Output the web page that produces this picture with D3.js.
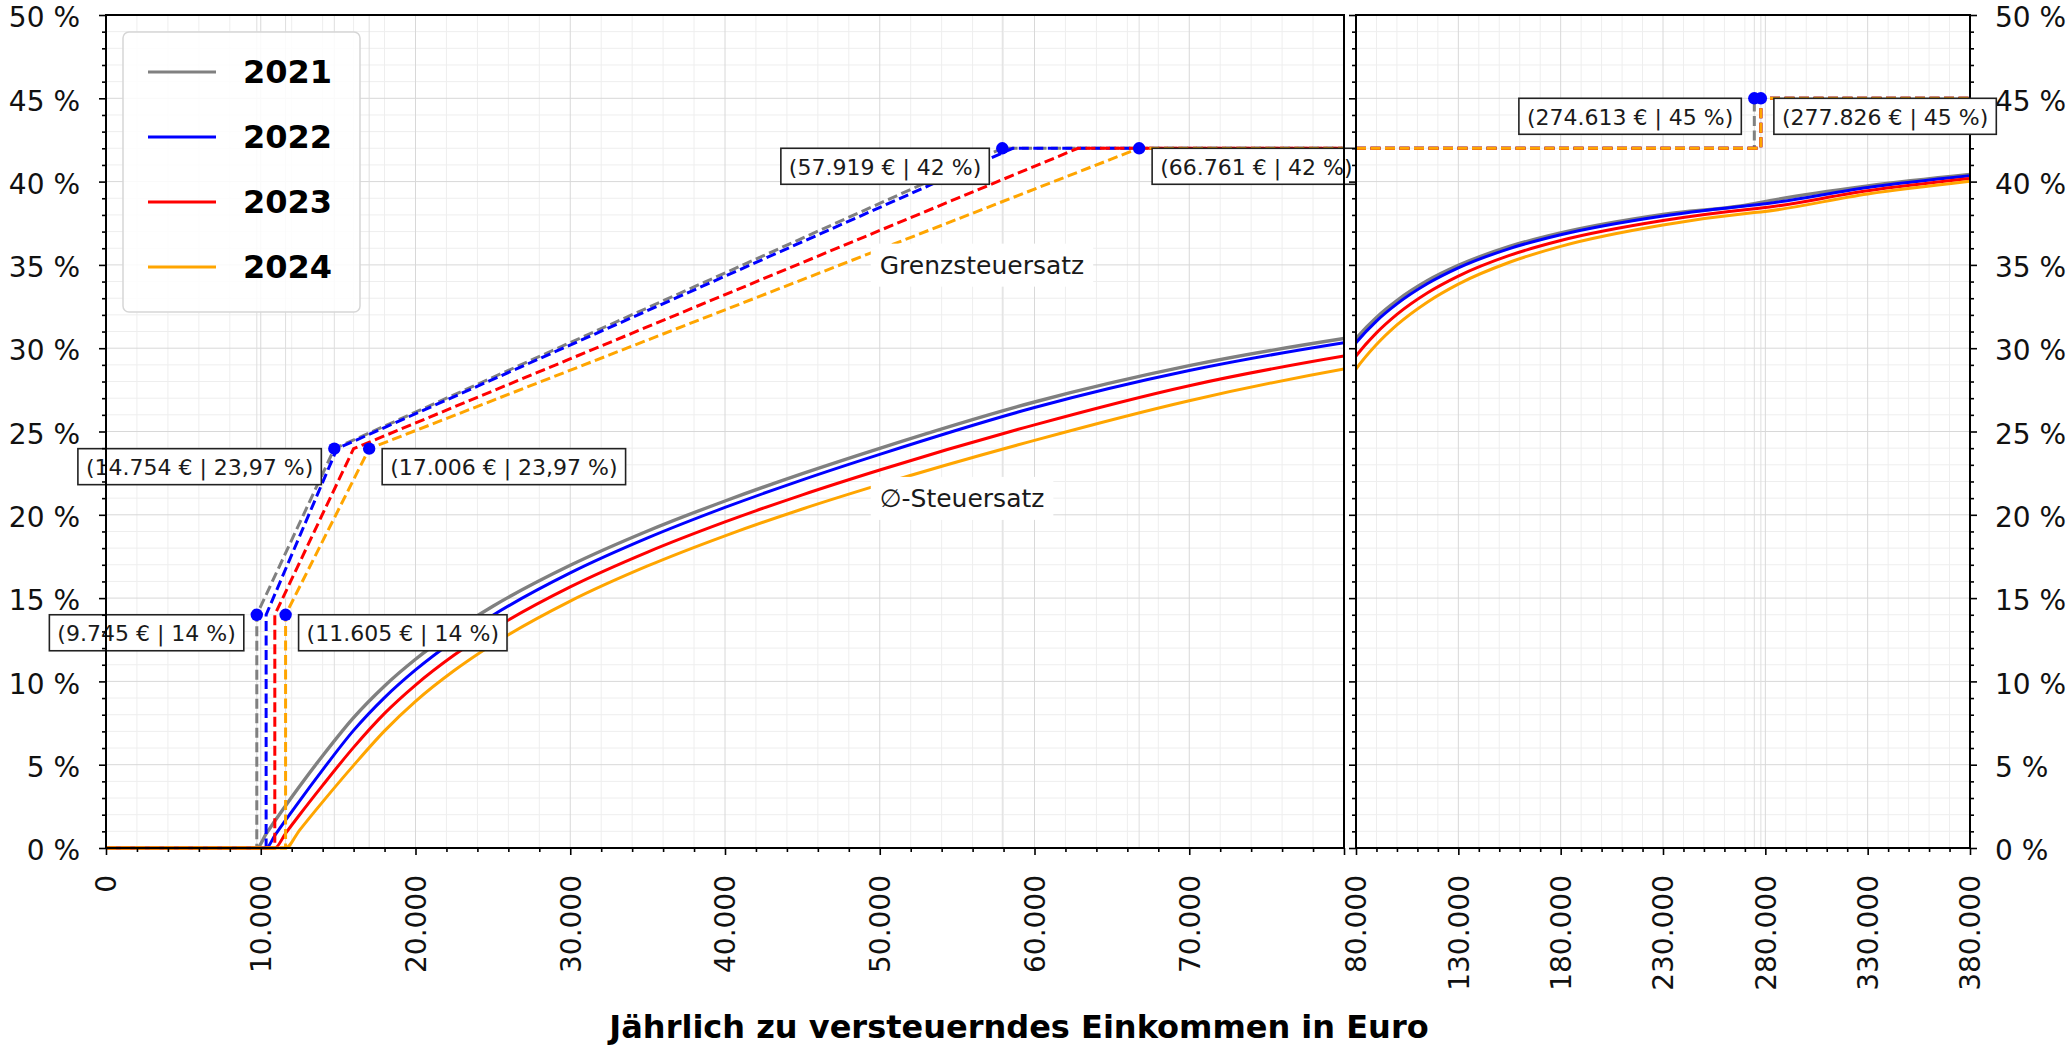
<!DOCTYPE html>
<html>
<head>
<meta charset="utf-8">
<script src="https://cdn.jsdelivr.net/npm/d3@7"></script>
<style>
    body { margin: 0; background: #fff; }
    svg { display: block; font-family: "DejaVu Sans", sans-serif; }
</style>
</head>
<body>
<div class="chart-container"></div>
<script>
// Data.
const years = ['2021', '2022', '2023', '2024'];
const yearColors = ['#808080', '#0000ff', '#ff0000', '#ffa500'];

// Grenzsteuersatz: breakpoints in Euro, rate in %
const marginalIncome2021 = [0, 9744, 9745, 14754, 57919, 274612, 274613, 380000];
const marginalIncome2022 = [0, 10347, 10348, 14927, 58597, 277825, 277826, 380000];
const marginalIncome2023 = [0, 10908, 10909, 16000, 62810, 277825, 277826, 380000];
const marginalIncome2024 = [0, 11604, 11605, 17006, 66761, 277825, 277826, 380000];
const marginalRate = [0, 0, 14, 23.97, 42, 42, 45, 45];

// Ø-Steuersatz
const avgIncome = [0, 9744, 10347, 10908, 11604, 12500, 14000, 16000, 18000, 20000, 22500, 25000,
    30000, 35000, 40000, 45000, 50000, 60000, 70000, 80000, 90000, 100000, 115000, 130000,
    155000, 180000, 230000, 274613, 277826, 330000, 380000];
const avg2021 = [0, 0, 0.85, 1.62, 2.54, 3.69, 5.54, 7.83, 9.73, 11.33, 13.04, 14.51, 16.97, 19.03,
    20.83, 22.47, 23.99, 26.77, 28.95, 30.58, 31.85, 32.86, 34.06, 34.97, 36.11, 36.92, 38.03,
    38.67, 38.75, 39.74, 40.43];
const avg2022 = [0, 0, 0, 0.75, 1.67, 2.82, 4.69, 7.06, 9.03, 10.69, 12.46, 13.97, 16.51, 18.61,
    20.44, 22.10, 23.63, 26.44, 28.66, 30.33, 31.63, 32.66, 33.88, 34.82, 35.98, 36.81, 37.94,
    38.60, 38.64, 39.65, 40.35];
const avg2023 = [0, 0, 0, 0, 0.88, 1.98, 3.76, 6.04, 8.08, 9.78, 11.58, 13.12, 15.67, 17.76,
    19.57, 21.20, 22.69, 25.40, 27.75, 29.53, 30.92, 32.03, 33.33, 34.33, 35.57, 36.46, 37.66,
    38.37, 38.41, 39.45, 40.18];
const avg2024 = [0, 0, 0, 0, 0, 1.06, 2.77, 4.96, 7.03, 8.80, 10.65, 12.23, 14.82, 16.93,
    18.74, 20.35, 21.81, 24.47, 26.85, 28.75, 30.22, 31.40, 32.78, 33.85, 35.16, 36.11, 37.39,
    38.14, 38.18, 39.26, 40.02];

// Marked points (2021 and 2024 Tarifeckwerte)
const pointIncome = [9745, 11605, 14754, 17006, 57919, 66761, 274613, 277826];
const pointRate = [14, 14, 23.97, 23.97, 42, 42, 45, 45];
const pointSide = ['left', 'right', 'left', 'right', 'left', 'right', 'left', 'right'];

// Tick values
const yTicks = d3.range(0, 51, 5);
const yMinorTicks = d3.range(0, 51, 1).filter(v => v % 5 !== 0);
const xLeftTicks = d3.range(0, 80001, 10000);
const xLeftMinor = d3.range(0, 80001, 2000).filter(v => v % 10000 !== 0);
const xRightTicks = d3.range(80000, 380001, 50000);
const xRightMinor = d3.range(80000, 380001, 10000).filter(v => (v - 80000) % 50000 !== 0);

const marginalIncome = [marginalIncome2021, marginalIncome2022, marginalIncome2023, marginalIncome2024];
const avgRate = [avg2021, avg2022, avg2023, avg2024];

const de = d3.formatLocale({decimal: ',', thousands: '.', grouping: [3], currency: ['', ' €']});
const fmtEuro = de.format(',');
const fmtRate = de.format('.4~r');

const width = 2071, height = 1047;
const svg = d3.select('.chart-container')
    .append('svg')
    .attr('width', width)
    .attr('height', height);

const y = d3.scaleLinear().domain([0, 50]).range([848, 15]);
const panels = [
    {
        id: 'left',
        x: d3.scaleLinear().domain([0, 80000]).range([106, 1344]),
        ticks: xLeftTicks,
        minor: xLeftMinor,
        labelled: xLeftTicks.filter(v => v < 80000)
    },
    {
        id: 'right',
        x: d3.scaleLinear().domain([80000, 380000]).range([1356, 1970]),
        ticks: xRightTicks,
        minor: xRightMinor,
        labelled: xRightTicks
    }
];

panels.forEach(p => drawPanel(p));
drawLegend();
drawTitle();

// step line points that start at the panel's left edge, so dashes line up
function marginalPoints(incomes, d0) {
    const pts = incomes.map((v, k) => [v, marginalRate[k]]);
    if (d0 <= 0) return pts;
    const before = pts.filter(d => d[0] <= d0);
    const start = [d0, before[before.length - 1][1]];
    return [start].concat(pts.filter(d => d[0] > d0));
}

function drawPanel(p) {
    const [x0, x1] = p.x.range();
    const [d0, d1] = p.x.domain();
    const g = svg.append('g').attr('class', 'panel-' + p.id);

    g.append('rect')
        .attr('x', x0).attr('y', y(50))
        .attr('width', x1 - x0).attr('height', y(0) - y(50))
        .attr('fill', '#fff');

    svg.append('clipPath').attr('id', 'clip-' + p.id)
        .append('rect')
        .attr('x', x0).attr('y', y(50) - 8)
        .attr('width', x1 - x0).attr('height', y(0) - y(50) + 10);

    // grid
    const grid = g.append('g');
    grid.selectAll('.vminor').data(p.minor).enter().append('line')
        .attr('x1', d => p.x(d)).attr('x2', d => p.x(d))
        .attr('y1', y(0)).attr('y2', y(50))
        .attr('stroke', '#eeeeee').attr('stroke-width', 1);
    grid.selectAll('.hminor').data(yMinorTicks).enter().append('line')
        .attr('x1', x0).attr('x2', x1)
        .attr('y1', d => y(d)).attr('y2', d => y(d))
        .attr('stroke', '#eeeeee').attr('stroke-width', 1);
    grid.selectAll('.vmajor').data(p.ticks).enter().append('line')
        .attr('x1', d => p.x(d)).attr('x2', d => p.x(d))
        .attr('y1', y(0)).attr('y2', y(50))
        .attr('stroke', '#d8d8d8').attr('stroke-width', 1);
    grid.selectAll('.hmajor').data(yTicks).enter().append('line')
        .attr('x1', x0).attr('x2', x1)
        .attr('y1', d => y(d)).attr('y2', d => y(d))
        .attr('stroke', '#d8d8d8').attr('stroke-width', 1);

    grid.selectAll('.vpoint').data(pointIncome.filter(v => v >= d0 && v <= d1)).enter().append('line')
        .attr('x1', d => p.x(d)).attr('x2', d => p.x(d))
        .attr('y1', y(0)).attr('y2', y(50))
        .attr('stroke', '#dedede').attr('stroke-width', 1);

    // lines
    const lines = g.append('g').attr('clip-path', `url(#clip-${p.id})`);
    const avgLine = d3.line()
        .x(d => p.x(d[0])).y(d => y(d[1]))
        .curve(d3.curveMonotoneX);
    const stepLine = d3.line()
        .x(d => p.x(d[0])).y(d => y(d[1]));

    years.forEach((yr, i) => {
        lines.append('path')
            .datum(avgIncome.map((v, k) => [v, avgRate[i][k]]))
            .attr('d', avgLine)
            .attr('fill', 'none')
            .attr('stroke', yearColors[i])
            .attr('stroke-width', i === 0 ? 3.4 : 3);
        lines.append('path')
            .datum(marginalPoints(marginalIncome[i], d0))
            .attr('d', stepLine)
            .attr('fill', 'none')
            .attr('stroke', yearColors[i])
            .attr('stroke-width', 3)
            .attr('stroke-dasharray', '10,4.5');
    });

    // points
    const pts = pointIncome.map((v, k) => ({x: v, r: pointRate[k], side: pointSide[k]}))
        .filter(d => d.x >= d0 && d.x <= d1);
    g.selectAll('.pt').data(pts).enter().append('circle')
        .attr('cx', d => p.x(d.x)).attr('cy', d => y(d.r))
        .attr('r', 6.2).attr('fill', '#0000ff');

    if (p.id === 'left') {
        addPlainText(g, p.x(50000), y(35), 'Grenzsteuersatz');
        addPlainText(g, p.x(50000), y(21), '\u2205-Steuersatz');
        pts.forEach(d => addBoxLabel(g, p.x(d.x), y(d.r), d.side, `(${fmtEuro(d.x)} € | ${fmtRate(d.r)} %)`));
        drawAxes(g, p);
    } else {
        drawAxes(g, p);
        pts.forEach(d => addBoxLabel(g, p.x(d.x), y(d.r), d.side, `(${fmtEuro(d.x)} € | ${fmtRate(d.r)} %)`));
    }
}

function addPlainText(g, x, yy, label) {
    const grp = g.append('g');
    const rect = grp.append('rect').attr('fill', '#fff');
    const t = grp.append('text')
        .attr('x', x).attr('y', yy)
        .attr('dy', '0.35em')
        .attr('font-size', 25)
        .attr('fill', '#1a1a1a')
        .text(label);
    const bb = t.node().getBBox();
    rect.attr('x', bb.x - 9).attr('y', bb.y - 7)
        .attr('width', bb.width + 18).attr('height', bb.height + 14);
}

function addBoxLabel(g, px, py, side, label) {
    const grp = g.append('g');
    const rect = grp.append('rect');
    const t = grp.append('text')
        .attr('font-size', 22)
        .attr('fill', '#1a1a1a')
        .attr('dy', '0.35em')
        .text(label);
    const bb = t.node().getBBox();
    const w = bb.width + 16, h = 36;
    const bx = side === 'left' ? px - 13 - w : px + 13;
    rect.attr('x', bx).attr('y', py).attr('width', w).attr('height', h)
        .attr('fill', '#fff').attr('stroke', '#222').attr('stroke-width', 1.6);
    t.attr('x', bx + 8).attr('y', py + h / 2 + 1);
}

function drawAxes(g, p) {
    const [x0, x1] = p.x.range();
    const axes = g.append('g');

    const styleAxis = sel => {
        sel.select('.domain').remove();
        sel.selectAll('line').attr('stroke', '#000').attr('stroke-width', 1.6);
        sel.selectAll('text').attr('font-size', 28).attr('fill', '#111')
            .attr('font-family', '"DejaVu Sans", sans-serif');
    };
    const yText = sel => sel.selectAll('text').attr('dy', '0.42em');

    // x axis
    const xAxis = d3.axisBottom(p.x)
        .tickValues(p.ticks)
        .tickSize(7)
        .tickFormat(d => p.labelled.includes(d) ? fmtEuro(d) : '');
    axes.append('g')
        .attr('transform', `translate(0, ${y(0)})`)
        .call(xAxis)
        .call(styleAxis)
        .selectAll('text')
        .attr('transform', 'rotate(-90)')
        .attr('x', -27).attr('y', 0)
        .attr('dy', '0.35em')
        .style('text-anchor', 'end');
    axes.append('g')
        .attr('transform', `translate(0, ${y(0)})`)
        .call(d3.axisBottom(p.x).tickValues(p.minor).tickSize(4).tickFormat(''))
        .call(styleAxis);

    // y axes
    if (p.id === 'left') {
        axes.append('g')
            .attr('transform', `translate(${x0}, 0)`)
            .call(d3.axisLeft(y).tickValues(yTicks).tickSize(7).tickPadding(19).tickFormat(d => d + ' %'))
            .call(styleAxis)
            .call(yText);
        axes.append('g')
            .attr('transform', `translate(${x0}, 0)`)
            .call(d3.axisLeft(y).tickValues(yMinorTicks).tickSize(4).tickFormat(''))
            .call(styleAxis);
    } else {
        axes.append('g')
            .attr('transform', `translate(${x1}, 0)`)
            .call(d3.axisRight(y).tickValues(yTicks).tickSize(7).tickPadding(18).tickFormat(d => d + ' %'))
            .call(styleAxis)
            .call(yText);
        axes.append('g')
            .attr('transform', `translate(${x1}, 0)`)
            .call(d3.axisRight(y).tickValues(yMinorTicks).tickSize(4).tickFormat(''))
            .call(styleAxis);
        axes.append('g')
            .attr('transform', `translate(${x0}, 0)`)
            .call(d3.axisLeft(y).tickValues(yTicks).tickSize(7).tickFormat(''))
            .call(styleAxis);
        axes.append('g')
            .attr('transform', `translate(${x0}, 0)`)
            .call(d3.axisLeft(y).tickValues(yMinorTicks).tickSize(4).tickFormat(''))
            .call(styleAxis);
    }

    // spines
    axes.append('rect')
        .attr('x', x0).attr('y', y(50))
        .attr('width', x1 - x0).attr('height', y(0) - y(50))
        .attr('fill', 'none')
        .attr('stroke', '#000')
        .attr('stroke-width', 2);
}

function drawLegend() {
    const lg = svg.append('g').attr('class', 'legend');
    lg.append('rect')
        .attr('x', 123).attr('y', 32)
        .attr('width', 237).attr('height', 280)
        .attr('rx', 6)
        .attr('fill', '#fff').attr('fill-opacity', 0.85)
        .attr('stroke', '#d6d6d6').attr('stroke-width', 1.5);
    const rows = lg.selectAll('.row').data(years).enter().append('g')
        .attr('transform', (d, i) => `translate(0, ${72 + i * 65})`);
    rows.append('line')
        .attr('x1', 148).attr('x2', 216)
        .attr('stroke', (d, i) => yearColors[i])
        .attr('stroke-width', 3);
    rows.append('text')
        .attr('x', 243).attr('dy', '0.35em')
        .attr('font-size', 32).attr('font-weight', 'bold')
        .attr('fill', '#000')
        .text(d => d);
}

function drawTitle() {
    svg.append('text')
        .attr('x', 1019).attr('y', 1038)
        .attr('text-anchor', 'middle')
        .attr('font-size', 32).attr('font-weight', 'bold')
        .attr('fill', '#000')
        .text('Jährlich zu versteuerndes Einkommen in Euro');
}
</script>
</body>
</html>
